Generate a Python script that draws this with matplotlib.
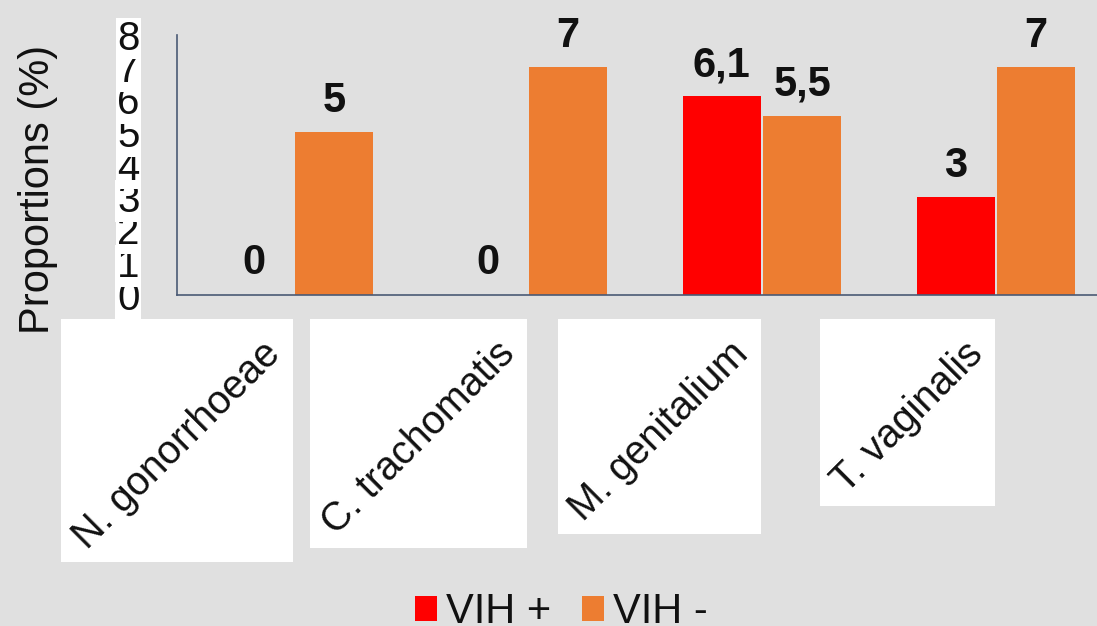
import numpy as np
import matplotlib.pyplot as plt
from matplotlib.patches import Rectangle
from matplotlib.transforms import ScaledTranslation

plt.rcParams['font.family'] = ['Liberation Sans', 'DejaVu Sans']

categories = ['N. gonorrhoeae', 'C. trachomatis', 'M. genitalium', 'T. vaginalis']
vih_pos = [0, 0, 6.1, 3]
vih_neg = [5, 7, 5.5, 7]
series_names = ['VIH +', 'VIH -']
y_ticks = [0, 1, 2, 3, 4, 5, 6, 7, 8]

RED = '#FF0000'
ORANGE = '#ED7D31'
AXIS = '#4A5A75'


def fmt(v):
    # french decimal comma
    return ('%g' % v).replace('.', ',')


fig = plt.figure(figsize=(10.97, 6.26), dpi=100, facecolor='#E0E0E0')
W, H = 1097, 626
ax = fig.add_axes([177 / W, (H - 294.5) / H, 936 / W, 260 / H])
ax.set_facecolor('none')

x = np.arange(len(categories)) + 0.5
bw = 0.335
off = 0.172
b1 = ax.bar(x - off, vih_pos, bw, color=RED, label=series_names[0])
b2 = ax.bar(x + off, vih_neg, bw, color=ORANGE, label=series_names[1])

for bars, vals in [(b1, vih_pos), (b2, vih_neg)]:
    ax.bar_label(bars, labels=[fmt(v) for v in vals], padding=8,
                 fontsize=30, fontweight='bold', color='#111111')

ax.set_xlim(0, len(categories))
ax.set_ylim(0, 8)

for s in ['top', 'right']:
    ax.spines[s].set_visible(False)
for s in ['left', 'bottom']:
    ax.spines[s].set_color(AXIS)
    ax.spines[s].set_linewidth(1.2)

# y ticks: big digits in white boxes, squeezed together like the original
ax.set_yticks(y_ticks)
ax.set_yticklabels([str(t) for t in y_ticks])
ax.tick_params(axis='y', length=0, pad=27, labelsize=29, labelcolor='#111111')
for lab in ax.get_yticklabels():
    lab.set_bbox(dict(facecolor='white', edgecolor='none', pad=1.2))

ax.set_ylabel('Proportions (%)', fontsize=30, color='#111111')
ax.yaxis.set_label_coords(-0.127, 0.406)

# x tick labels rotated 45
ax.set_xticks(x)
ax.set_xticklabels(categories, rotation=45, ha='right', rotation_mode='default')
ax.tick_params(axis='x', length=0, pad=29, labelsize=28.5, labelcolor='#111111')
shift = ScaledTranslation(-6 / 100, 0, fig.dpi_scale_trans)
for lab in ax.get_xticklabels():
    lab.set_transform(lab.get_transform() + shift)

# white boxes behind the category labels
fig.canvas.draw()
r = fig.canvas.get_renderer()
pad_x, pad_top, pad_bot = 5, 16, 6
for lab in ax.get_xticklabels():
    bb = lab.get_window_extent(r)
    rect = Rectangle(((bb.x0 - pad_x) / W, (bb.y0 - pad_bot) / H),
                     (bb.width + 2 * pad_x) / W,
                     (bb.height + pad_top + pad_bot) / H,
                     transform=fig.transFigure, facecolor='white',
                     edgecolor='none', zorder=-1)
    fig.patches.append(rect)

fig.legend(handles=[b1, b2], labels=series_names, loc='center',
           bbox_to_anchor=(0.512, 0.022), ncol=2, frameon=False,
           fontsize=30, handlelength=0.52, handleheight=0.52,
           handletextpad=0.22, columnspacing=0.74, borderpad=0,
           labelcolor='#111111')

fig.savefig('out.png', dpi=100, facecolor=fig.get_facecolor())
